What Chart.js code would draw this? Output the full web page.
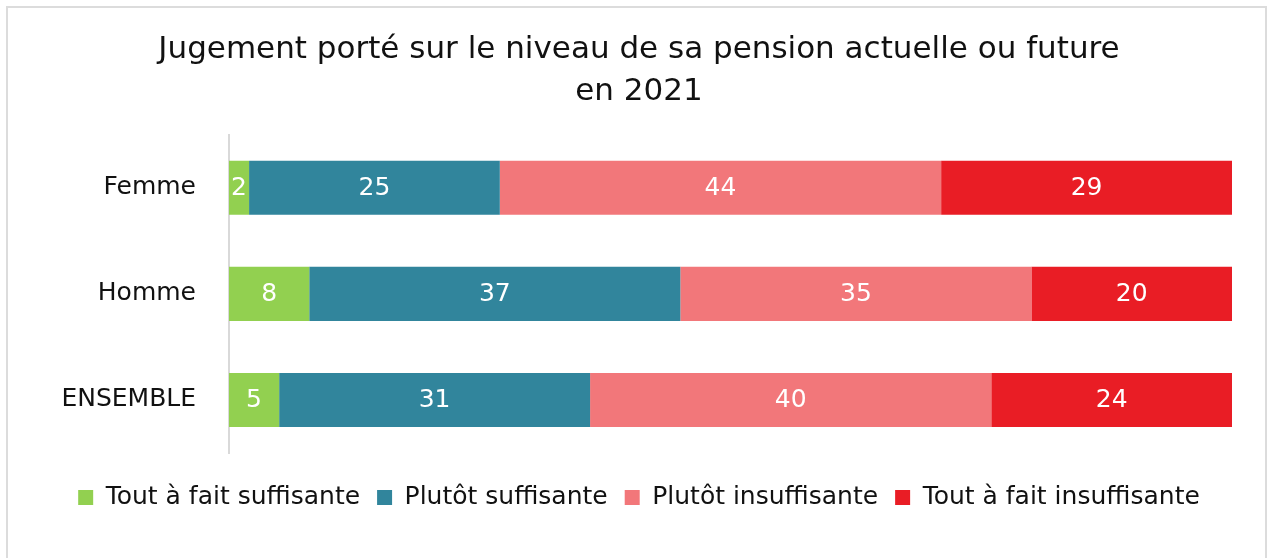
<!DOCTYPE html>
<html lang="fr">
<head>
<meta charset="utf-8">
<title>Jugement porté sur le niveau de sa pension</title>
<script src="https://cdn.jsdelivr.net/npm/chart.js@4.4.1/dist/chart.umd.min.js"></script>
<style>
  html, body { margin: 0; padding: 0; background: #fff; }
  #wrap { position: relative; width: 1268px; height: 558px; overflow: hidden; }
  #frame {
    position: absolute; left: 6px; top: 6px; width: 1261px; height: 600px;
    border: 2px solid #dcdcdc; box-sizing: border-box;
  }
  canvas { position: absolute; left: 0; top: 0; }
</style>
</head>
<body>
<div id="wrap">
  <div id="frame"></div>
  <canvas id="chart" width="1268" height="558"></canvas>
</div>
<script>
const categories = ['Femme', 'Homme', 'ENSEMBLE'];
const seriesNames = ['Tout à fait suffisante', 'Plutôt suffisante', 'Plutôt insuffisante', 'Tout à fait insuffisante'];
const toutAFaitSuffisante = [2, 8, 5];
const plutotSuffisante = [25, 37, 31];
const plutotInsuffisante = [44, 35, 40];
const toutAFaitInsuffisante = [29, 20, 24];
const titleLines = ['Jugement porté sur le niveau de sa pension actuelle ou future', 'en 2021'];

const colors = ['#92d050', '#31859c', '#f2777a', '#e91d25'];
const FONT = "'DejaVu Sans', sans-serif";

// white value labels in the middle of each segment
const segmentLabels = {
  id: 'segmentLabels',
  afterDatasetsDraw(chart) {
    const ctx = chart.ctx;
    ctx.save();
    ctx.font = '25px ' + FONT;
    ctx.fillStyle = '#ffffff';
    ctx.textAlign = 'center';
    ctx.textBaseline = 'middle';
    chart.data.datasets.forEach((ds, i) => {
      chart.getDatasetMeta(i).data.forEach((bar, j) => {
        const p = bar.getCenterPoint();
        ctx.fillText(String(ds.data[j]), p.x, p.y + 1);
      });
    });
    ctx.restore();
  }
};

const values = [toutAFaitSuffisante, plutotSuffisante, plutotInsuffisante, toutAFaitInsuffisante];

new Chart(document.getElementById('chart'), {
  type: 'bar',
  data: {
    labels: categories,
    datasets: seriesNames.map((name, i) => ({
      label: name,
      data: values[i],
      backgroundColor: colors[i],
      borderWidth: 0,
      categoryPercentage: 1,
      barPercentage: 0.51
    }))
  },
  options: {
    indexAxis: 'y',
    responsive: false,
    animation: false,
    devicePixelRatio: 1,
    layout: { padding: { left: 46, right: 36, top: 0, bottom: 38 } },
    plugins: {
      title: {
        display: true,
        text: titleLines,
        color: '#111',
        font: { family: FONT, size: 31, weight: 'normal', lineHeight: 1.35 },
        padding: { top: 29, bottom: 22 }
      },
      legend: {
        position: 'bottom',
        labels: {
          color: '#111',
          font: { family: FONT, size: 25 },
          boxWidth: 15,
          boxHeight: 15,
          padding: 17
        }
      },
      tooltip: { enabled: false }
    },
    scales: {
      x: {
        stacked: true,
        min: 0,
        max: 100,
        grid: { display: false },
        border: { display: false },
        ticks: { display: false },
        afterFit: s => { s.height = 15; }
      },
      y: {
        stacked: true,
        grid: { display: false, drawTicks: false },
        border: { display: true, color: '#d9d9d9', width: 2 },
        ticks: { color: '#111', font: { family: FONT, size: 25 }, padding: 33 },
        afterFit: s => { s.width = 183; }
      }
    }
  },
  plugins: [segmentLabels]
});
</script>
</body>
</html>
